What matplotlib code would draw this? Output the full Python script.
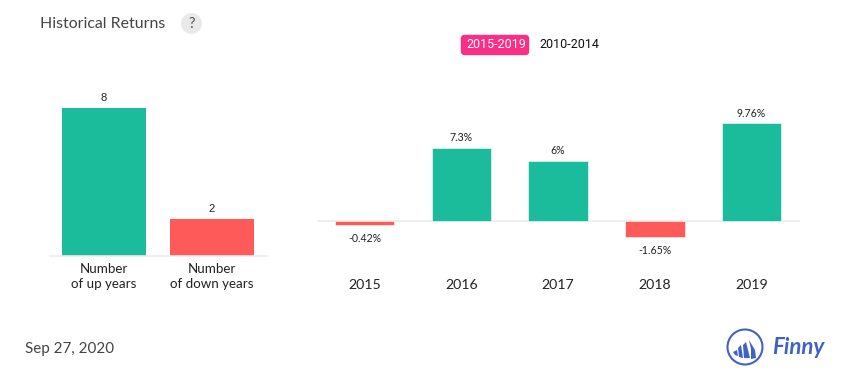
import matplotlib
matplotlib.use("Agg")
import matplotlib.pyplot as plt
from matplotlib.patches import Circle, FancyBboxPatch, Polygon

W, H = 855, 382

VERDE = "#1abc9c"
VERMELHO = "#ff5a5a"
ROSA = "#f92f85"
AZUL = "#3f62c4"
CINZA = "#ececec"

contagem_labels = ["Number\nof up years", "Number\nof down years"]
contagem_valores = [8, 2]

anos = ["2015", "2016", "2017", "2018", "2019"]
retornos = [-0.42, 7.3, 6, -1.65, 9.76]
retornos_labels = ["-0.42%", "7.3%", "6%", "-1.65%", "9.76%"]

titulo = "Historical Returns"
periodos = ["2015-2019", "2010-2014"]
data_texto = "Sep 27, 2020"
marca = "Finny"


def eixo_px(fig, x0, y0, x1, y1):
    """Cria um eixo a partir de coordenadas em pixels (origem no topo)."""
    ax = fig.add_axes([x0 / W, 1 - y1 / H, (x1 - x0) / W, (y1 - y0) / H])
    for lado in ["top", "left", "right"]:
        ax.spines[lado].set_visible(False)
    ax.set_yticks([])
    ax.patch.set_alpha(0)
    return ax


def cor(v):
    return VERDE if v >= 0 else VERMELHO


fig = plt.figure(figsize=(W / 100, H / 100), dpi=100, facecolor="white")

# barras da esquerda
ax1 = eixo_px(fig, 50, 90, 267, 255.5)
ax1.bar(range(2), contagem_valores, width=0.778, color=[VERDE, VERMELHO])
ax1.set_xlim(-0.5, 1.509)
ax1.set_ylim(0, 9)
ax1.spines["bottom"].set_color(CINZA)
ax1.spines["bottom"].set_linewidth(1.2)
ax1.set_xticks(range(2), contagem_labels, family="Lato", fontsize=9.6, color="#222222", linespacing=1.3)
ax1.tick_params(axis="x", length=0, pad=5.3)
for i, v in enumerate(contagem_valores):
    ax1.annotate(str(v), (i, v), xytext=(0, 5), textcoords="offset points", ha="center",
                 family="Liberation Sans", fontsize=8, color="#222222")

# barras da direita
ax2 = eixo_px(fig, 317, 89.5, 800, 254.5)
ax2.bar(range(5), retornos, width=0.615, color=[cor(v) for v in retornos], edgecolor="white", linewidth=0.4, zorder=3)
ax2.set_xlim(-0.491, 4.5)
ax2.set_ylim(-34 / 9.94, 131 / 9.94)
ax2.axhline(0, color=CINZA, linewidth=1.2, zorder=1)
ax2.spines["bottom"].set_visible(False)
ax2.set_xticks(range(5), anos, family="Lato", fontsize=10.2, color="#222222")
ax2.tick_params(axis="x", length=0, pad=17.3)
for i, v in enumerate(retornos):
    desloc = 5 if v >= 0 else -12.2
    ax2.annotate(retornos_labels[i], (i, v), xytext=(0, desloc), textcoords="offset points", ha="center",
                 family="Lato", fontsize=7.6, color="#222222")

# camada em pixels: titulo, seletor, data e logo
topo = fig.add_axes([0, 0, 1, 1])
topo.set_xlim(0, W)
topo.set_ylim(H, 0)
topo.axis("off")
topo.patch.set_alpha(0)

topo.text(40, 23.5, titulo, family="Lato", fontsize=11.4, color="#444444", va="center")
topo.add_patch(Circle((191.5, 23.5), 10.5, color="#e9e9e9", lw=0))
topo.text(191.5, 24, "?", family="Lato", fontsize=10.5, color="#555555", ha="center", va="center")

topo.add_patch(FancyBboxPatch((461.5, 35.5), 67, 19, boxstyle="round,pad=0,rounding_size=3",
                              fc=ROSA, ec=ROSA, lw=1))
topo.text(496, 45, periodos[0], family="Roboto", fontsize=9, color="white", ha="center", va="center")
topo.text(569.5, 45, periodos[1], family="Roboto", fontsize=9, color="#111111", ha="center", va="center")

topo.text(25, 349, data_texto, family="Lato", fontsize=10.9, color="#444444", va="center")

topo.add_patch(Circle((745, 347), 17.5, fc="none", ec=AZUL, lw=1.5))
topo.add_patch(Polygon([(733, 352), (737, 350), (738, 356), (735, 355)], fc=AZUL, lw=0))
topo.add_patch(Polygon([(738, 348), (741, 345), (743, 358), (739, 357)], fc=AZUL, lw=0))
topo.add_patch(Polygon([(743, 345), (746, 342), (750, 358), (744, 358)], fc=AZUL, lw=0))
topo.add_patch(Polygon([(749, 340), (755, 350), (756, 358), (751, 359), (751, 349)], fc=AZUL, lw=0))
topo.text(772, 347.5, marca, family="Lato", style="italic", weight="bold", fontsize=16, color=AZUL, va="center")

fig.savefig("out.png", dpi=100)
